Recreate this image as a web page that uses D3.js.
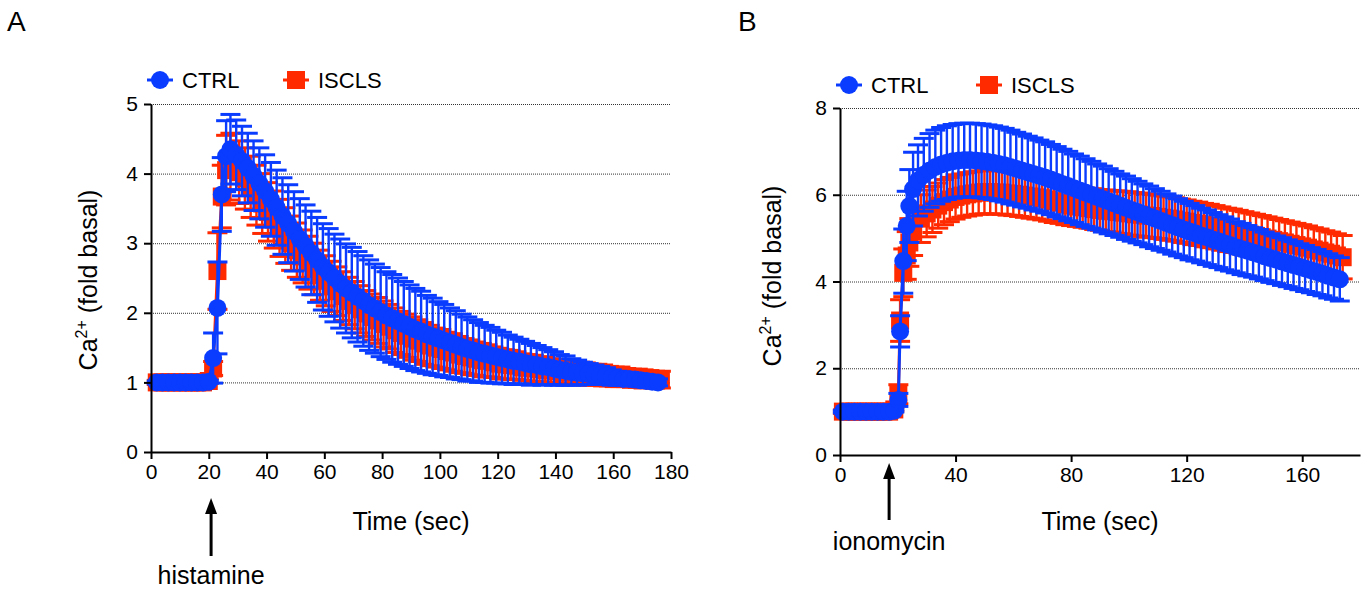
<!DOCTYPE html>
<html><head><meta charset="utf-8">
<script src="https://cdn.jsdelivr.net/npm/d3@7"></script>
<style>
body{margin:0;background:#fff}
svg{display:block}
text{font-family:"Liberation Sans",Arial,Helvetica,sans-serif;fill:#000}
</style>
</head><body>
<svg id="c" width="1364" height="590"></svg>
<script>
// ---------- Panel A data (histamine) ----------
const timeA_ctrl = [2,4,6,8,10,12,14,16,18,20, 21.5,23,24.5,26,27.5,
29.5,31.5,33.5,35.5,37.5,39.5,41.5,43.5,45.5,47.5,
49.5,51.5,53.5,55.5,57.5,59.5,61.5,63.5,65.5,67.5,
69.5,71.5,73.5,75.5,77.5,79.5,81.5,83.5,85.5,87.5,
89.5,91.5,93.5,95.5,97.5,99.5,101.5,103.5,105.5,107.5,
109.5,111.5,113.5,115.5,117.5,119.5,121.5,123.5,125.5,127.5,
129.5,131.5,133.5,135.5,137.5,139.5,141.5,143.5,145.5,147.5,
149.5,151.5,153.5,155.5,157.5,159.5,161.5,163.5,165.5,167.5,
169.5,171.5,173.5,175.5];
const ctrlA = [1,1,1,1,1,1,1,1,1,1.01, 1.35,2.07,3.70,4.25,4.35,
4.27,4.18,4.08,3.97,3.86,3.75,3.63,3.51,3.39,3.28,
3.17,3.06,2.96,2.86,2.76,2.66,2.58,2.50,2.42,2.35,
2.29,2.23,2.17,2.11,2.06,2.01,1.96,1.92,1.88,1.84,
1.80,1.76,1.73,1.69,1.66,1.63,1.60,1.57,1.54,1.51,
1.48,1.46,1.43,1.41,1.39,1.37,1.35,1.33,1.31,1.30,
1.28,1.26,1.25,1.23,1.22,1.20,1.18,1.17,1.15,1.14,
1.13,1.12,1.11,1.10,1.09,1.07,1.06,1.05,1.05,1.04,
1.03,1.02,1.01,1.00];
const ctrlA_sem = [0.02,0.02,0.02,0.02,0.02,0.02,0.02,0.02,0.02,0.02, 0.36,0.66,0.53,0.51,0.50,
0.50,0.50,0.50,0.50,0.51,0.52,0.53,0.54,0.55,0.56,
0.57,0.58,0.59,0.60,0.61,0.62,0.63,0.63,0.64,0.64,
0.65,0.65,0.65,0.65,0.64,0.64,0.63,0.63,0.62,0.61,
0.60,0.59,0.58,0.56,0.55,0.53,0.52,0.50,0.49,0.47,
0.46,0.44,0.43,0.41,0.40,0.38,0.37,0.35,0.34,0.32,
0.31,0.30,0.28,0.27,0.25,0.24,0.22,0.21,0.19,0.18,
0.16,0.15,0.14,0.13,0.12,0.11,0.10,0.09,0.09,0.08,
0.07,0.06,0.06,0.05];
const timeA_iscls = [2,4,6,8,10,12,14,16,18,20, 21.5,23,24.5,26,27.5,
30.5,32.5,34.5,36.5,38.5,40.5,42.5,44.5,46.5,48.5,
50.5,52.5,54.5,56.5,58.5,60.5,62.5,64.5,66.5,68.5,
70.5,72.5,74.5,76.5,78.5,80.5,82.5,84.5,86.5,88.5,
90.5,92.5,94.5,96.5,98.5,100.5,102.5,104.5,106.5,108.5,
110.5,112.5,114.5,116.5,118.5,120.5,122.5,124.5,126.5,128.5,
130.5,132.5,134.5,136.5,138.5,140.5,142.5,144.5,146.5,148.5,
150.5,152.5,154.5,156.5,158.5,160.5,162.5,164.5,166.5,168.5,
170.5,172.5,174.5,176.5];
const isclsA = [1,1,1,1,1,1,1,1,1,1.02, 1.20,2.60,3.67,4.05,4.10,
4.02,3.93,3.81,3.69,3.57,3.45,3.34,3.22,3.11,3.00,
2.90,2.81,2.72,2.63,2.54,2.46,2.38,2.31,2.24,2.17,
2.11,2.05,1.99,1.94,1.89,1.84,1.80,1.75,1.71,1.67,
1.63,1.60,1.56,1.53,1.50,1.48,1.45,1.43,1.40,1.38,
1.36,1.34,1.32,1.31,1.29,1.27,1.26,1.25,1.24,1.22,
1.21,1.20,1.19,1.18,1.17,1.16,1.15,1.14,1.14,1.13,
1.12,1.11,1.11,1.10,1.09,1.08,1.08,1.07,1.06,1.06,
1.05,1.05,1.04,1.04];
const isclsA_sem = [0.03,0.03,0.03,0.03,0.03,0.03,0.03,0.03,0.03,0.03, 0.10,0.55,0.45,0.50,0.48,
0.45,0.44,0.44,0.43,0.43,0.42,0.41,0.41,0.40,0.39,
0.39,0.38,0.38,0.37,0.36,0.36,0.36,0.35,0.35,0.34,
0.34,0.34,0.33,0.33,0.33,0.33,0.32,0.32,0.31,0.31,
0.31,0.30,0.30,0.29,0.28,0.28,0.27,0.27,0.26,0.25,
0.25,0.24,0.24,0.23,0.22,0.22,0.21,0.21,0.20,0.19,
0.19,0.19,0.18,0.18,0.17,0.17,0.17,0.16,0.16,0.16,
0.16,0.15,0.15,0.15,0.14,0.14,0.14,0.13,0.13,0.13,
0.13,0.12,0.12,0.12];
const xTicksA = [0,20,40,60,80,100,120,140,160,180];
const yTicksA = [0,1,2,3,4,5];

// ---------- Panel B data (ionomycin) ----------
const timeB_ctrl = [1,3,5,7,9,11,13,15,17,18.8, 20.2,20.8,21.9,23.1,24.0,25.3,
27,29,31,33,35,37,39,41,43,45,
47,49,51,53,55,57,59,61,63,65,
67,69,71,73,75,77,79,81,83,85,
87,89,91,93,95,97,99,101,103,105,
107,109,111,113,115,117,119,121,123,125,
127,129,131,133,135,137,139,141,143,145,
147,149,151,153,155,157,159,161,163,165,
167,169,171,173];
const ctrlB = [1,1,1,1,1,1,1,1,1,1.02, 1.27,2.85,4.47,5.28,5.74,6.13,
6.33,6.46,6.56,6.64,6.70,6.74,6.77,6.79,6.80,6.80,
6.79,6.78,6.76,6.74,6.71,6.68,6.64,6.60,6.56,6.52,
6.48,6.44,6.40,6.35,6.30,6.25,6.20,6.15,6.10,6.05,
6.00,5.95,5.90,5.85,5.80,5.75,5.70,5.65,5.60,5.55,
5.50,5.45,5.40,5.35,5.30,5.25,5.20,5.15,5.11,5.06,
5.02,4.97,4.93,4.88,4.84,4.79,4.75,4.71,4.67,4.63,
4.58,4.54,4.50,4.46,4.42,4.38,4.34,4.30,4.26,4.22,
4.18,4.13,4.09,4.05];
const ctrlB_sem = [0.03,0.03,0.03,0.03,0.03,0.03,0.03,0.03,0.03,0.03, 0.15,0.36,0.74,0.80,0.84,0.85,
0.82,0.84,0.85,0.85,0.85,0.85,0.85,0.85,0.85,0.85,
0.85,0.85,0.85,0.85,0.85,0.85,0.85,0.84,0.84,0.83,
0.83,0.82,0.82,0.81,0.81,0.80,0.80,0.79,0.79,0.78,
0.77,0.76,0.76,0.75,0.74,0.73,0.73,0.72,0.71,0.70,
0.70,0.69,0.68,0.67,0.67,0.66,0.65,0.65,0.64,0.63,
0.63,0.62,0.61,0.61,0.60,0.59,0.59,0.58,0.57,0.57,
0.56,0.56,0.55,0.55,0.54,0.54,0.53,0.53,0.52,0.52,
0.51,0.51,0.50,0.50];
const timeB_iscls = [1,3,5,7,9,11,13,15,17,18.8, 20.2,20.8,21.9,23.1,24.0,25.3,
28,30,32,34,36,38,40,42,44,46,
48,50,52,54,56,58,60,62,64,66,
68,70,72,74,76,78,80,82,84,86,
88,90,92,94,96,98,100,102,104,106,
108,110,112,114,116,118,120,122,124,126,
128,130,132,134,136,138,140,142,144,146,
148,150,152,154,156,158,160,162,164,166,
168,170,172,174];
const isclsB = [1,1,1,1,1,1,1,1,1,1.05, 1.40,3.10,4.20,4.60,4.90,5.15,
5.45,5.57,5.66,5.75,5.83,5.89,5.95,5.98,6.01,6.03,
6.05,6.06,6.06,6.05,6.05,6.03,6.02,6.00,5.98,5.96,
5.94,5.92,5.89,5.85,5.82,5.78,5.75,5.73,5.71,5.69,
5.67,5.65,5.63,5.62,5.60,5.59,5.57,5.55,5.54,5.52,
5.51,5.49,5.47,5.45,5.43,5.40,5.38,5.35,5.33,5.30,
5.28,5.25,5.22,5.19,5.17,5.14,5.11,5.08,5.05,5.02,
4.99,4.96,4.93,4.90,4.87,4.84,4.81,4.78,4.74,4.71,
4.67,4.64,4.60,4.56];
const isclsB_sem = [0.04,0.04,0.04,0.04,0.04,0.04,0.04,0.04,0.04,0.04, 0.22,0.48,0.55,0.55,0.55,0.55,
0.55,0.54,0.53,0.52,0.52,0.51,0.51,0.50,0.50,0.50,
0.50,0.50,0.50,0.50,0.50,0.50,0.50,0.50,0.50,0.50,
0.50,0.50,0.50,0.49,0.48,0.47,0.46,0.46,0.46,0.46,
0.47,0.47,0.48,0.48,0.49,0.49,0.50,0.50,0.50,0.50,
0.50,0.50,0.50,0.50,0.50,0.50,0.50,0.50,0.50,0.50,
0.50,0.50,0.50,0.50,0.50,0.50,0.50,0.50,0.50,0.50,
0.50,0.50,0.50,0.50,0.50,0.50,0.50,0.50,0.50,0.50,
0.50,0.50,0.50,0.50];
const xTicksB = [0,40,80,120,160];
const yTicksB = [0,2,4,6,8];

const seriesNames = ["CTRL","ISCLS"];
const BLUE = "#0a3cff", RED = "#ff2a00";

const svg = d3.select("#c");

function drawPanel(p){
  const g = svg.append("g");
  const x = d3.scaleLinear().domain(p.xDomain).range(p.xRange);
  const y = d3.scaleLinear().domain(p.yDomain).range(p.yRange);

  // dotted gridlines
  g.append("g").selectAll("line").data(p.yTicks.filter(v=>v>0)).join("line")
    .attr("x1",p.xRange[0]).attr("x2",p.xRange[1])
    .attr("y1",d=>y(d)+0.5).attr("y2",d=>y(d)+0.5)
    .attr("stroke","#333").attr("stroke-width",1).attr("stroke-dasharray","1,1");

  // series (ISCLS first, CTRL on top)
  [p.series[1], p.series[0]].forEach(s=>{
    const pts = s.time.map((t,i)=>({t:t, m:s.mean[i], e:s.sem[i]}));
    const sg = g.append("g");
    const eb = sg.append("g").attr("stroke",s.color).attr("stroke-width",2.4);
    eb.selectAll("line.v").data(pts).join("line").attr("class","v")
      .attr("x1",d=>x(d.t)).attr("x2",d=>x(d.t))
      .attr("y1",d=>y(d.m-d.e)).attr("y2",d=>y(d.m+d.e));
    eb.selectAll("line.cu").data(pts).join("line").attr("class","cu")
      .attr("x1",d=>x(d.t)-10).attr("x2",d=>x(d.t)+10)
      .attr("y1",d=>y(d.m+d.e)).attr("y2",d=>y(d.m+d.e)).attr("stroke-width",3);
    eb.selectAll("line.cl").data(pts).join("line").attr("class","cl")
      .attr("x1",d=>x(d.t)-10).attr("x2",d=>x(d.t)+10)
      .attr("y1",d=>y(d.m-d.e)).attr("y2",d=>y(d.m-d.e)).attr("stroke-width",3);
    sg.append("path").datum(pts)
      .attr("d",d3.line().x(d=>x(d.t)).y(d=>y(d.m)))
      .attr("fill","none").attr("stroke",s.color).attr("stroke-width",3);
    if(s.shape==="circle"){
      sg.selectAll("circle").data(pts).join("circle")
        .attr("cx",d=>x(d.t)).attr("cy",d=>y(d.m)).attr("r",9).attr("fill",s.color);
    } else {
      sg.selectAll("rect").data(pts).join("rect")
        .attr("x",d=>x(d.t)-9).attr("y",d=>y(d.m)-9).attr("width",18).attr("height",18).attr("fill",s.color);
    }
  });

  // axes
  const ax = g.append("g").attr("transform",`translate(0,${p.yRange[0]})`)
    .call(d3.axisBottom(x).tickValues(p.xTicks).tickFormat(d3.format("d")).tickSize(7).tickSizeOuter(0).tickPadding(5));
  const ay = g.append("g").attr("transform",`translate(${p.xRange[0]},0)`)
    .call(d3.axisLeft(y).tickValues(p.yTicks).tickFormat(d3.format("d")).tickSize(7).tickSizeOuter(0).tickPadding(6));
  [ax,ay].forEach(a=>{
    a.select(".domain").attr("stroke","#000").attr("stroke-width",2);
    a.selectAll(".tick line").attr("stroke","#000").attr("stroke-width",2);
    a.selectAll(".tick text").attr("font-size",21).attr("font-family","Liberation Sans, Arial, sans-serif").attr("fill","#000");
  });

  // axis titles
  g.append("text").attr("x",p.xTitle[0]).attr("y",p.xTitle[1]).attr("text-anchor","middle")
    .attr("font-size",25).text("Time (sec)");
  const yt = g.append("text").attr("transform",`translate(${p.yTitle[0]},${p.yTitle[1]}) rotate(-90)`)
    .attr("text-anchor","middle").attr("font-size",25);
  yt.append("tspan").text("Ca");
  yt.append("tspan").attr("font-size",16).attr("dy",-10).text("2+");
  yt.append("tspan").attr("dy",10).text(" (fold basal)");

  // stimulus arrow
  const ar = p.arrow;
  g.append("line").attr("x1",x(ar.t)).attr("x2",x(ar.t)).attr("y1",ar.y1).attr("y2",ar.y0+10)
    .attr("stroke","#000").attr("stroke-width",3);
  g.append("path").attr("d",`M${x(ar.t)},${ar.y0} l-6,16 l12,0 z`).attr("fill","#000");
  g.append("text").attr("x",x(ar.t)).attr("y",ar.ty).attr("text-anchor","middle").attr("font-size",25).text(ar.label);

  // legend
  p.series.forEach((s,i)=>{
    const lx = p.legend[i][0], ly = p.legend[i][1];
    g.append("line").attr("x1",lx-13).attr("x2",lx+13).attr("y1",ly).attr("y2",ly)
      .attr("stroke",s.color).attr("stroke-width",3);
    if(s.shape==="circle") g.append("circle").attr("cx",lx).attr("cy",ly).attr("r",9).attr("fill",s.color);
    else g.append("rect").attr("x",lx-9).attr("y",ly-9).attr("width",18).attr("height",18).attr("fill",s.color);
    g.append("text").attr("x",lx+22).attr("y",ly+8).attr("font-size",22).text(s.name);
  });

  // panel letter
  g.append("text").attr("x",p.letter[0]).attr("y",p.letter[1]).attr("font-size",28).text(p.letter[2]);
}

drawPanel({
  xDomain:[0,180], xRange:[151,671], yDomain:[0,5], yRange:[452,104],
  xTicks:xTicksA, yTicks:yTicksA,
  series:[
    {name:seriesNames[0], color:BLUE, shape:"circle", time:timeA_ctrl, mean:ctrlA, sem:ctrlA_sem},
    {name:seriesNames[1], color:RED, shape:"square", time:timeA_iscls, mean:isclsA, sem:isclsA_sem}
  ],
  xTitle:[411,530], yTitle:[97,280],
  arrow:{t:20.8, y0:498, y1:556, ty:584, label:"histamine"},
  legend:[[160,80],[296,80]],
  letter:[7,31,"A"]
});
drawPanel({
  xDomain:[0,180], xRange:[840,1360], yDomain:[0,8], yRange:[455,108],
  xTicks:xTicksB, yTicks:yTicksB,
  series:[
    {name:seriesNames[0], color:BLUE, shape:"circle", time:timeB_ctrl, mean:ctrlB, sem:ctrlB_sem},
    {name:seriesNames[1], color:RED, shape:"square", time:timeB_iscls, mean:isclsB, sem:isclsB_sem}
  ],
  xTitle:[1100,530], yTitle:[781,276],
  arrow:{t:17, y0:463, y1:520, ty:550, label:"ionomycin"},
  legend:[[849,85],[989,85]],
  letter:[738,31,"B"]
});
</script>
</body></html>
